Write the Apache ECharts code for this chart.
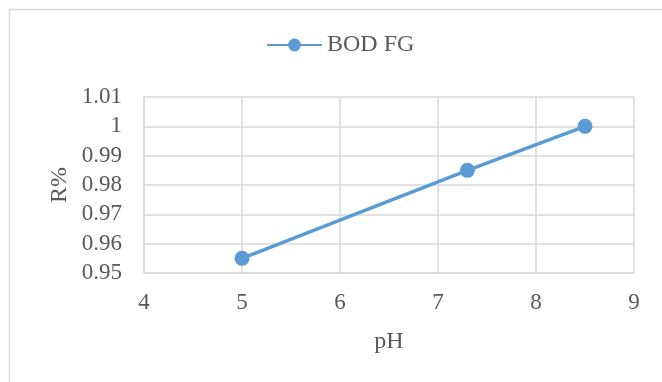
<!DOCTYPE html>
<html>
<head>
<meta charset="utf-8">
<script src="https://cdn.jsdelivr.net/npm/echarts@6/dist/echarts.min.js"></script>
<style>
  html, body { margin: 0; padding: 0; background: #fff; }
  #chart { width: 662px; height: 382px; }
</style>
</head>
<body>
<div id="chart"></div>
<script>
// BOD removal ratio against pH
const seriesName = 'BOD FG';
const phValues = [5, 7.3, 8.5];
const removalValues = [0.955, 0.985, 1.0];
const xTicks = { min: 4, max: 9, step: 1 };
const yTicks = { min: 0.95, max: 1.01, step: 0.01 };
const xTitle = 'pH';
const yTitle = 'R%';

const font = 'Liberation Serif';
const textColor = '#595959';
const gridColor = '#d9d9d9';
const lineColor = '#5b9bd5';

const gridBox = { left: 144, right: 28, top: 97, bottom: 109 };
const W = 662, H = 382;

const chart = echarts.init(document.getElementById('chart'));

// axes and plot frame
chart.setOption({
  animation: false,
  backgroundColor: '#fff',
  textStyle: { fontFamily: font, fontSize: 23, color: textColor },
  grid: gridBox,
  xAxis: {
    type: 'value',
    min: xTicks.min,
    max: xTicks.max,
    interval: xTicks.step,
    axisLabel: { fontSize: 23, fontFamily: font, color: textColor, margin: 18 }
  },
  yAxis: {
    type: 'value',
    min: yTicks.min,
    max: yTicks.max,
    interval: yTicks.step,
    axisLabel: {
      fontSize: 23, fontFamily: font, color: textColor, margin: 22,
      formatter: v => String(+v.toFixed(2))
    }
  },
  series: [{
    name: seriesName,
    type: 'line',
    data: phValues.map((x, i) => [x, removalValues[i]])
  }]
});

// line styling, grid lines, legend and titles
chart.setOption({
  graphic: [
    {
      type: 'rect',
      shape: { x: 9.5, y: 9.5, width: 800, height: 600 },
      style: { fill: 'none', stroke: gridColor, lineWidth: 1.5 },
      silent: true
    },
    {
      type: 'text',
      x: (gridBox.left + W - gridBox.right) / 2,
      y: 342,
      style: {
        text: xTitle, font: '24px "' + font + '"', fill: textColor,
        textAlign: 'center', textVerticalAlign: 'middle'
      },
      silent: true
    },
    {
      type: 'text',
      x: 60,
      y: (gridBox.top + H - gridBox.bottom) / 2,
      rotation: Math.PI / 2,
      style: {
        text: yTitle, font: '24px "' + font + '"', fill: textColor,
        textAlign: 'center', textVerticalAlign: 'middle'
      },
      silent: true
    }
  ],
  legend: {
    left: 266,
    top: 33,
    padding: 0,
    itemWidth: 55,
    itemHeight: 16,
    textStyle: { fontFamily: font, fontSize: 24, color: textColor },
    data: [seriesName]
  },
  xAxis: {
    axisLine: { show: true, lineStyle: { color: gridColor, width: 1.5 } },
    axisTick: { show: false },
    splitLine: { show: true, lineStyle: { color: gridColor, width: 1.5 } }
  },
  yAxis: {
    axisLine: { show: true, lineStyle: { color: gridColor, width: 1.5 } },
    axisTick: { show: false },
    splitLine: { show: true, lineStyle: { color: gridColor, width: 1.5 } }
  },
  series: [{
    symbol: 'circle',
    symbolSize: 15,
    lineStyle: { color: lineColor, width: 3.5 },
    itemStyle: { color: lineColor }
  }]
});

// tick label styling applied once more after the merge
chart.setOption({
  xAxis: { axisLabel: { fontSize: 23, fontFamily: font, color: textColor, margin: 18 } },
  yAxis: { axisLabel: { fontSize: 23, fontFamily: font, color: textColor, margin: 22 } }
});
</script>
</body>
</html>
